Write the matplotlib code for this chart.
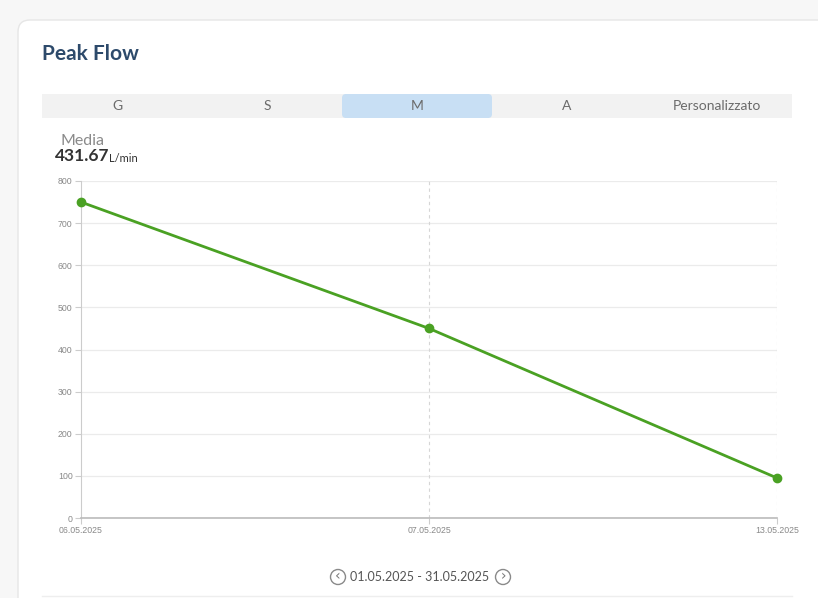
import matplotlib.pyplot as plt
from matplotlib.patches import FancyBboxPatch, Rectangle, Circle

# data
dates = ["06.05.2025", "07.05.2025", "13.05.2025"]
peak_flow = [750, 450, 95]
y_ticks = [0, 100, 200, 300, 400, 500, 600, 700, 800]
tabs = ["G", "S", "M", "A", "Personalizzato"]
selected_tab = "M"
period = "01.05.2025 - 31.05.2025"

W, H = 818, 598
fig = plt.figure(figsize=(W / 100, H / 100), dpi=100)
fig.patch.set_facecolor("#f7f7f7")

# background layer in pixel coords (y from top)
bg = fig.add_axes([0, 0, 1, 1])
bg.set_xlim(0, W)
bg.set_ylim(H, 0)
bg.axis("off")

card = FancyBboxPatch((18, 20), 830, 620, boxstyle="round,pad=0,rounding_size=12",
                      facecolor="white", edgecolor="#e6e6e6", linewidth=1)
bg.add_patch(card)

bg.text(42, 54, "Peak Flow", fontsize=15, fontweight="bold", color="#2d4a6b",
        family="Lato", va="center", ha="left")

# tab bar
bg.add_patch(Rectangle((42, 94), 750, 24, facecolor="#f2f2f2", edgecolor="none"))
tab_w = 750 / len(tabs)
for i, t in enumerate(tabs):
    cx = 42 + tab_w * (i + 0.5)
    if t == selected_tab:
        bg.add_patch(FancyBboxPatch((342, 94), 150, 24,
                                    boxstyle="round,pad=0,rounding_size=4",
                                    facecolor="#c8dff4", edgecolor="none"))
    bg.text(cx, 106, t, fontsize=10, color="#6b6b6b", family="Lato",
            ha="center", va="center")

bg.text(60, 141, "Media", fontsize=11.5, color="#8a8a8a", family="Lato",
        ha="left", va="center")
bg.text(55, 156, "431.67", fontsize=12.5, fontweight="bold", color="#333333",
        family="Lato", ha="left", va="center")
bg.text(109, 158, "L/min", fontsize=8, color="#333333", family="Lato",
        ha="left", va="center")

# period navigation
bg.text(420, 577, period, fontsize=9, color="#555555", family="Lato",
        ha="center", va="center")
for cx, arrow in [(338, "‹"), (503, "›")]:
    bg.add_patch(Circle((cx, 577), 7.5, facecolor="none", edgecolor="#8a8a8a", linewidth=1))
    bg.text(cx, 576, arrow, fontsize=10, color="#777777", ha="center", va="center")
bg.plot([42, 792], [596, 596], color="#eeeeee", linewidth=1)

# chart
ax = fig.add_axes([81 / W, 1 - 518 / H, (777 - 81) / W, (518 - 181) / H])
x = list(range(len(dates)))
ax.plot(x, peak_flow, color="#4aa123", linewidth=2, marker="o", markersize=6,
        zorder=3, clip_on=False)
ax.set_xlim(0, len(dates) - 1)
ax.set_ylim(0, 800)
ax.set_yticks(y_ticks)
ax.set_xticks(x)
ax.set_xticklabels(dates)
ax.tick_params(labelsize=6.3, colors="#888888", length=4, width=0.8, pad=2)
ax.tick_params(axis="x", color="#cccccc")
ax.tick_params(axis="y", color="#cccccc")
for lbl in ax.get_xticklabels() + ax.get_yticklabels():
    lbl.set_family("Liberation Sans")
ax.grid(axis="y", color="#ebebeb", linewidth=0.9)
for xi in x[1:]:
    ax.axvline(xi, color="#d6d6d6", linestyle=(0, (3, 3)), linewidth=0.8, zorder=1)
for s in ["top", "right"]:
    ax.spines[s].set_visible(False)
ax.spines["left"].set_color("#cccccc")
ax.spines["bottom"].set_color("#bbbbbb")
ax.spines["bottom"].set_linewidth(1.2)
ax.set_axisbelow(True)

fig.savefig("out.png", dpi=100)
